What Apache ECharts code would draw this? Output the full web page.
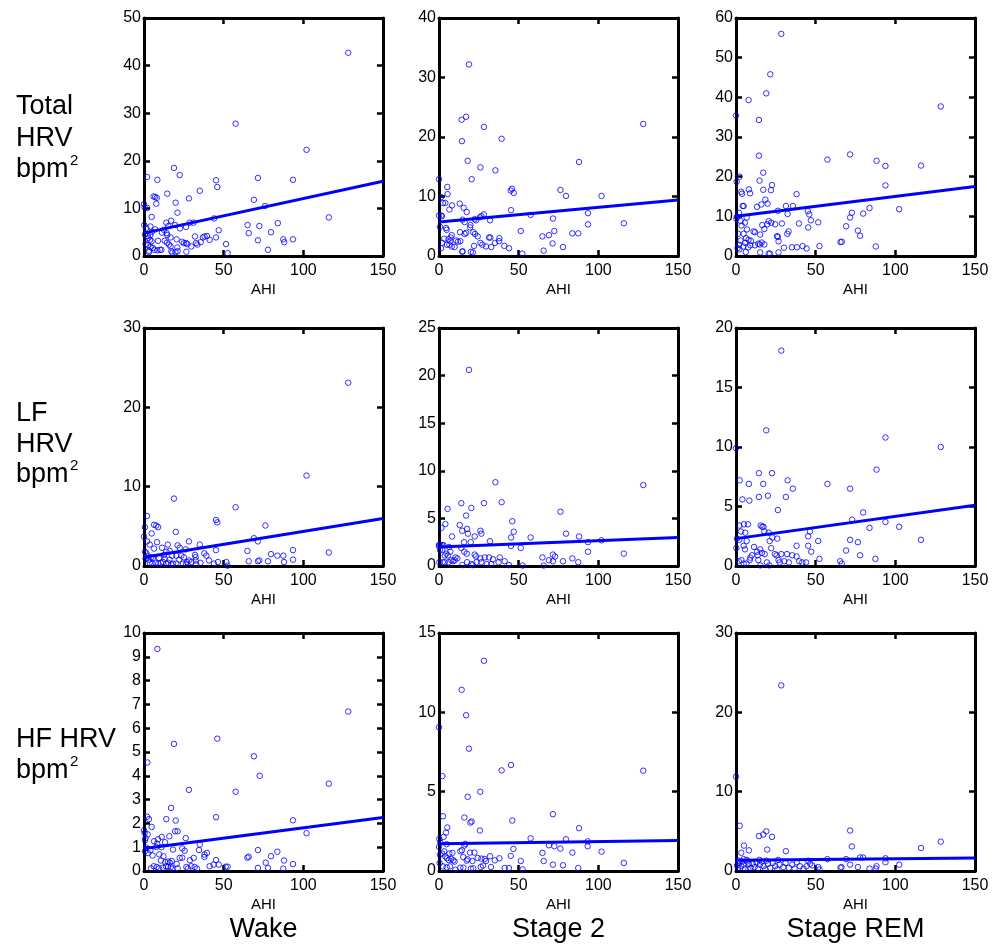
<!DOCTYPE html>
<html><head><meta charset="utf-8">
<script src="https://cdn.jsdelivr.net/npm/echarts@6/dist/echarts.min.js"></script>
<style>html,body{margin:0;padding:0;background:#fff}#c{width:1003px;height:946px}</style>
</head><body><div id="c"></div><script>
// ---------- DATA ----------
const columnNames = ['Wake', 'Stage 2', 'Stage REM'];
const rowNameLines = [['Total', 'HRV', 'bpm'], ['LF', 'HRV', 'bpm'], ['HF HRV', 'bpm']];
const xAxisName = 'AHI';
const xMin = 0, xMax = 150, xStep = 50;
const yMaxTotal = [50, 40, 60], yStepTotal = [10, 10, 10];
const yMaxLF = [30, 25, 20], yStepLF = [10, 5, 5];
const yMaxHF = [10, 15, 30], yStepHF = [1, 5, 10];

// regression fits: value at AHI = 0 and AHI = 150
const fitTotalWake = [4.8, 15.7], fitTotalStage2 = [5.7, 9.4], fitTotalREM = [10.0, 17.5];
const fitLFWake = [1.1, 6.0], fitLFStage2 = [2.0, 3.0], fitLFREM = [2.3, 5.1];
const fitHFWake = [0.95, 2.25], fitHFStage2 = [1.72, 1.92], fitHFREM = [1.35, 1.65];

const totalWake = [[128.2,42.7],[57.5,27.8],[102,22.3],[18.8,18.5],[1.9,16.6],[8.4,16.0],[22.4,17.0],[45.2,15.9],[71.5,16.4],[93.5,16.0],[46,14.5],[35,13.7],[14.6,13.1],[7,12.4],[8,12.2],[6,12.5],[28.2,12.1],[69,11.8],[19.9,11.2],[7.7,11.0],[76,10.5],[0,10.9],[0.4,10.2],[2,10.1],[21,9.1],[4.8,8.2],[116,8.1],[44,7.9],[17,7.4],[14,7.0],[28.7,7.0],[31,7.0],[19.5,6.5],[22.6,5.8],[26.4,6.1],[84,6.9],[65,6.5],[72.4,6.3],[0.2,6.5],[1.5,5.9],[4,6.2],[5,5.1],[7,5.6],[12.5,5.5],[15.3,6.3],[14.2,4.8],[11.3,4.9],[46.9,5.4],[65.7,4.8],[79.7,5.0],[0.6,4.5],[2.3,4.2],[4,4.4],[32,4.1],[38,4.1],[39.5,4.2],[37,3.9],[41.2,3.4],[45.2,3.9],[14.6,4.4],[16.7,3.9],[20.5,3.5],[71.5,3.3],[87.4,3.5],[88,2.9],[93.5,3.5],[2.7,3.8],[3.8,3.4],[4.8,3.1],[8.8,3.2],[13,3.2],[14.4,2.8],[24,3.0],[25,2.7],[26.4,2.7],[27.2,2.5],[32.6,2.7],[33.5,2.4],[35.6,2.9],[51.5,2.5],[1,2.5],[2.5,2.3],[4.2,1.9],[5.6,1.7],[6.5,1.3],[3.1,1.1],[3.1,0.8],[8.4,1.2],[10,1.3],[10.9,1.3],[17.2,1.0],[17.8,0.7],[19.7,0.8],[21.1,1.0],[26.6,0.9],[16.7,2.0],[15.7,2.4],[20.9,1.8],[29.7,2.0],[52.5,0.6],[77.8,1.3]];
const totalStage2 = [[18.8,32.2],[17,23.4],[14.2,22.9],[128.2,22.2],[28.2,21.7],[39.3,19.7],[14.4,19.3],[87.9,15.8],[18,16.0],[26,14.9],[35.4,14.4],[0,12.9],[20.5,12.9],[5.2,11.6],[45.8,11.3],[45,11.0],[46.9,10.6],[76.2,11.1],[79.7,10.1],[102,10.1],[5.4,10.4],[1.3,9.9],[2.5,8.9],[4,8.9],[13,8.8],[8.2,8.5],[15.5,8.1],[6.5,7.8],[17.4,7.4],[45.2,7.7],[28.2,7.0],[26.6,6.7],[25.7,6.5],[0,6.8],[1.3,6.8],[1.9,6.7],[57.5,6.9],[93.5,7.2],[71.5,6.3],[14.8,6.1],[16.1,5.7],[22.4,6.2],[23.2,6.0],[32,6.0],[0.6,4.9],[19.7,5.2],[19.5,4.8],[116,5.5],[93.5,5.3],[4.4,4.7],[4.8,4.4],[51.3,4.2],[72.4,4.2],[13.2,4.0],[17,3.9],[16.1,3.7],[21.5,4.0],[22.6,3.7],[83.7,3.8],[87.4,3.8],[69,3.5],[64.9,3.3],[24.3,3.3],[31.4,3.1],[32.2,3.1],[8,3.5],[7.3,3.1],[37.9,3.0],[37.7,2.5],[3.3,2.9],[2,2.2],[5.9,2.8],[7.1,2.5],[6.5,1.9],[10.7,2.6],[11.9,2.4],[13.4,2.5],[26,2.2],[27.2,1.9],[29.5,1.6],[32.8,1.5],[35.1,2.2],[41,1.7],[44,1.3],[71.3,2.1],[77.8,1.5],[22,1.7],[8,1.6],[9.8,1.5],[5,1.9],[1.3,1.3],[14.8,0.8],[14.6,0.7],[20,0.7],[21.3,0.6],[65.7,0.9],[52.3,0.4]];
const totalREM = [[28.4,56.0],[21.5,45.8],[19,41.0],[7.9,39.3],[0,35.4],[128.5,37.7],[14.4,34.3],[14.4,25.3],[71.6,25.6],[57.4,24.3],[88.2,24.0],[93.8,22.7],[116.1,22.8],[17.1,21.0],[2.3,20.0],[0.4,18.7],[14.8,19.0],[22.6,17.9],[93.8,17.8],[8.1,16.8],[8.8,15.8],[17.1,16.7],[21.9,16.6],[3.3,16.2],[3.8,15.7],[38,15.6],[18.4,14.2],[19.8,13.2],[15.9,13.0],[4.2,12.6],[4.8,12.6],[13.2,12.4],[31.3,12.6],[35.7,12.6],[83.8,12.1],[102.4,11.8],[26.3,11.4],[32.4,10.6],[45.1,11.3],[46,10.5],[72.7,10.9],[71.6,9.7],[79.8,10.7],[1.9,10.9],[0.6,9.9],[0.2,9.4],[6.7,9.7],[2.9,8.8],[3.5,7.7],[5.6,8.4],[47,9.0],[20.5,8.8],[22.1,8.4],[24.6,8.0],[28.8,8.2],[39.5,8.2],[51.6,8.5],[16.5,7.8],[19.6,8.0],[17.8,6.8],[45.3,7.2],[69.1,7.5],[6.9,6.7],[11,6.2],[11.9,6.0],[33,6.2],[32.2,5.6],[76.5,6.4],[77.9,5.1],[1.3,5.6],[4.8,5.6],[15.2,5.4],[25.7,5.0],[26.3,4.8],[65.6,3.5],[66.4,3.6],[6.3,4.5],[7.9,4.1],[9.4,3.8],[5.6,3.3],[2.9,3.9],[1.9,2.8],[1,2.0],[2.1,1.7],[11.9,2.7],[14,3.1],[15,2.9],[16.1,3.4],[17.8,2.9],[26.7,3.7],[4.6,2.4],[7.7,2.2],[9,2.7],[30.1,2.1],[35.1,2.2],[38.2,2.2],[41.8,2.5],[44.3,1.9],[52.4,2.5],[87.7,2.4],[15.2,0.9],[20.5,0.6],[21.3,0.6],[26.7,0.9],[6.1,1.0]];
const lfWake = [[128.2,23.1],[102,11.4],[18.8,8.5],[57.5,7.4],[1.9,6.3],[45.2,5.8],[46,5.5],[6.3,5.2],[7.7,5.1],[8.8,4.9],[76.2,5.1],[0.6,4.9],[4.8,4.1],[19.9,4.3],[0,3.7],[69,3.5],[71.5,3.1],[8.2,3.0],[28.2,3.1],[1.9,3.1],[3.6,2.7],[35,2.7],[14.9,2.7],[21.1,2.6],[22.4,2.3],[6.3,2.2],[64.9,1.9],[93.5,2.0],[45.2,2.0],[116,1.7],[0.6,1.8],[1.5,1.6],[11.3,2.3],[26.2,2.1],[79.7,1.5],[83.7,1.3],[87.4,1.3],[37.9,1.6],[39.1,1.3],[32,1.4],[32.4,1.1],[14,1.8],[16.1,1.9],[12.6,1.4],[17.6,1.3],[20.3,1.3],[23.4,1.3],[5.6,1.0],[3.1,0.8],[1,0.9],[93.5,0.8],[65.7,0.6],[71.5,0.6],[72.4,0.7],[77.8,0.6],[87.9,0.5],[40.8,0.7],[43.9,0.3],[46.4,0.5],[51.7,0.5],[52.5,0.05],[28.2,0.7],[29.7,0.5],[32.4,0.7],[35.4,0.4],[10.5,0.4],[11.9,0.5],[14,0.3],[15.3,0.4],[17.2,0.2],[18.2,0.3],[20.3,0.3],[24.5,0.3],[26.4,0.3],[27,0.5],[3.6,0.4],[5.2,0.3],[7.3,0.4],[9,0.3],[32.8,0.2],[2.5,1.2],[4.5,1.1],[9.5,1.0],[13,0.9],[16,0.8],[22,0.8],[25,1.1]];
const lfStage2 = [[18.8,20.6],[35.4,8.8],[128.2,8.5],[39.3,6.7],[28.2,6.6],[14,6.6],[20.3,6.1],[5.4,6.0],[76.2,5.7],[17,5.3],[46,4.7],[13,4.3],[4,4.4],[1.5,4.0],[17.6,3.9],[18.2,3.4],[14.6,3.7],[26,3.7],[26.6,3.4],[46.9,3.6],[79.7,3.4],[8.2,3.1],[22.4,3.1],[45.2,3.0],[57.5,3.0],[87.9,3.1],[102,2.7],[32,2.6],[15.7,2.5],[19.9,2.5],[93.5,2.5],[0,2.2],[0,2.1],[0.8,2.2],[1.9,2.2],[2.7,2.2],[0.6,1.7],[2.1,1.7],[45.2,2.1],[51.3,1.9],[6.3,2.0],[7.1,1.5],[93.5,1.5],[116,1.3],[14,1.9],[15.9,1.5],[17.4,1.3],[22.4,1.2],[23.2,1.0],[71.5,1.2],[72.8,1.0],[64.9,0.9],[83.7,0.8],[69,0.6],[71.5,0.5],[77.8,0.5],[87.4,0.4],[3.6,1.1],[4.6,1.3],[5.6,1.1],[10.3,0.9],[11.5,0.8],[26,0.8],[28.7,0.9],[31.4,0.9],[33.9,0.7],[38.1,0.9],[41.2,0.5],[43.9,0.1],[52.5,0.05],[65.7,0.05],[0.2,0.4],[2.3,0.4],[3.6,0.4],[6.1,0.4],[7.7,0.6],[8.8,0.5],[9.8,0.6],[14.6,0.1],[17.6,0.4],[20.3,0.2],[21.1,0.1],[23.6,0.4],[26.6,0.4],[30,0.2],[32.8,0.2],[37.4,0.4]];
const lfREM = [[28.4,18.1],[19,11.4],[93.8,10.8],[128.5,10.0],[0,9.9],[88.2,8.1],[14.4,7.8],[22.6,7.8],[32.4,7.2],[2.3,7.2],[8.1,6.9],[17.1,6.9],[57.4,6.9],[35.7,6.5],[71.6,6.5],[14.4,5.8],[20,5.9],[31.3,5.8],[4,5.6],[8.4,5.5],[26.3,4.7],[79.8,4.5],[72.9,3.9],[93.8,3.7],[83.8,3.2],[102.4,3.3],[2.1,3.4],[5,3.5],[7.5,3.5],[15.5,3.4],[16.5,3.3],[17.3,3.3],[3.1,2.9],[5.8,2.8],[17.8,2.9],[20.5,2.8],[46.4,2.9],[0.6,2.3],[2.1,2.2],[6.7,2.1],[25.9,2.3],[21.1,2.1],[22.8,2.4],[45.3,2.5],[71.6,2.2],[76.5,2.0],[116.1,2.2],[51.6,2.1],[38,1.7],[45.3,1.7],[0.2,1.5],[4.8,1.7],[5.6,1.4],[47.2,1.2],[69.1,1.3],[11.3,1.6],[13.2,1.2],[15.2,1.4],[16.3,1.1],[18,1.0],[22.1,1.5],[24.4,1.0],[25.5,0.9],[28.4,1.0],[32,1.0],[35.3,0.9],[38,0.8],[77.9,0.9],[87.5,0.6],[52.4,0.6],[3.4,0.5],[1.7,0.4],[4.8,0.2],[6.5,0.2],[9,0.7],[8.6,0.5],[10,0.9],[13.6,0.9],[14,0.5],[15.2,0.05],[20.9,0.05],[19.4,0.3],[26.7,0.5],[27.4,0.3],[30.3,0.4],[33.2,0.3],[39.7,0.4],[41.6,0.3],[44,0.3],[65.4,0.4],[66.4,0.2]];
const hfWake = [[8.4,9.33],[128.2,6.7],[46,5.56],[18.8,5.34],[69,4.82],[2.1,4.56],[72.6,4.0],[116,3.67],[28.2,3.41],[57.5,3.33],[17,2.65],[45.2,2.26],[1.9,2.28],[3.1,2.18],[14,2.18],[19.9,2.12],[93.5,2.13],[4.8,1.85],[19.5,1.67],[21.1,1.67],[0,1.71],[0.4,1.6],[102,1.59],[2.3,1.54],[1,1.38],[0.6,1.29],[11.1,1.43],[15.9,1.46],[26.2,1.38],[8.8,1.33],[6.3,1.25],[13.2,1.21],[1.5,0.98],[4,0.87],[0.6,0.83],[8.2,1.15],[7.7,1.01],[11,1.0],[35,1.11],[24,0.95],[25.5,0.85],[71.5,0.88],[83.7,0.81],[34.5,0.88],[39.5,0.76],[38,0.69],[37.9,0.59],[79.7,0.62],[64.9,0.56],[65.7,0.6],[22.4,0.55],[24,0.56],[31.2,0.55],[45.2,0.46],[87.9,0.44],[10.6,0.44],[13.4,0.37],[15.1,0.4],[16.2,0.35],[17.4,0.42],[76.4,0.35],[93.5,0.29],[41.2,0.2],[43.7,0.27],[46.9,0.27],[51.3,0.18],[52.5,0.18],[71.5,0.13],[77.8,0.13],[87.4,0.1],[4.4,0.11],[6.1,0.2],[8,0.17],[9.4,0.11],[11.9,0.14],[13.8,0.2],[15.1,0.17],[16.8,0.17],[17.8,0.1],[21.1,0.11],[26.6,0.17],[27.6,0.11],[29.7,0.2],[31.8,0.17],[33.3,0.1],[2.5,0.75],[5.4,0.65],[9.6,0.7],[12.2,0.62],[18.2,0.9],[20.5,0.3],[28.8,0.45]];
const hfStage2 = [[28.2,13.25],[14.2,11.42],[17,9.82],[0,9.06],[18.8,7.71],[45.2,6.68],[39.3,6.34],[128.2,6.32],[2.1,5.98],[25.9,4.99],[18,4.68],[71.5,3.58],[2.5,3.45],[15.9,3.37],[46,3.18],[19.7,3.05],[20.5,3.12],[5.2,2.74],[87.9,2.7],[25.7,2.55],[4.4,2.42],[2.9,2.15],[57.5,2.06],[79.7,2.0],[93.3,1.87],[93.3,1.56],[0.2,2.02],[0.8,1.81],[0,1.52],[4.8,1.69],[16.5,1.71],[15.9,1.6],[69,1.62],[72.4,1.56],[76.2,1.41],[46.7,1.39],[102,1.22],[83.7,1.16],[64.9,1.14],[3.3,1.24],[2.1,1.1],[0.6,1.03],[13.4,1.24],[14.4,1.31],[19.5,1.16],[22.2,1.16],[8.4,1.14],[6.5,1.1],[45,0.95],[32,0.93],[37.9,0.8],[15.2,0.88],[18,0.74],[17.4,0.65],[24.3,0.82],[51.3,0.63],[65.7,0.63],[35,0.67],[116,0.51],[4,0.92],[5,0.8],[6,0.69],[7.7,0.76],[9,0.67],[9.8,0.59],[21,0.63],[26.6,0.78],[28.7,0.76],[29.5,0.63],[71.5,0.4],[77.8,0.36],[87.4,0.19],[41.2,0.19],[43.9,0.19],[52.5,0.1],[20,0.15],[21.5,0.17],[26.2,0.25],[32.6,0.25],[27.6,0.34],[0.4,0.5],[2.5,0.29],[4.8,0.23],[6.9,0.29],[10.3,0.08],[13.4,0.21],[15.3,0.21]];
const hfREM = [[28.4,23.4],[0,11.9],[2.3,5.7],[71.6,5.1],[19,5.0],[17.1,4.6],[14.4,4.4],[22.6,4.3],[128.5,3.7],[5,3.2],[72.7,3.1],[116.1,2.9],[19.6,2.7],[8.1,2.6],[31.3,2.5],[3.3,2.3],[57.4,1.5],[69.1,1.5],[77.9,1.7],[79.8,1.7],[93.8,1.6],[93.8,1.1],[45.3,1.3],[46.6,0.9],[47.8,0.7],[102.4,0.8],[71.6,0.8],[76.5,0.5],[88.2,0.6],[87.7,0.3],[83.8,0.3],[65.6,0.4],[66.2,0.5],[51.6,0.5],[52.4,0.2],[0.6,0.7],[1.3,0.4],[2.1,1.0],[3.3,0.6],[4.6,0.8],[5.6,0.3],[6.7,1.4],[8.1,0.9],[9.2,0.4],[4.8,1.5],[6.9,1.2],[10.5,0.9],[11.7,0.5],[12.9,1.1],[13.8,0.3],[15,0.8],[16.1,1.2],[17.3,0.6],[18.4,0.2],[20.1,0.9],[21.5,0.4],[23,1.0],[24.6,0.6],[25.9,0.2],[27.4,0.8],[29.7,0.5],[31.1,1.0],[33.2,0.4],[35.3,0.8],[36.8,0.3],[38.2,1.1],[40.1,0.6],[42.4,0.3],[44.3,0.6],[1.5,1.3],[3.9,1.2],[7.7,0.2],[14.6,1.4],[19,1.3],[26.5,1.4]];

// ---------- LAYOUT ----------
const FONT = '"Liberation Sans", Arial, Helvetica, sans-serif';
const gridLefts = [144, 439, 736];
const gridTops = [18, 328, 633];
const GW = 239, GH = 238;
const BLUE = '#0000ff';

const panels = [
  {pts: totalWake, fit: fitTotalWake, yMax: yMaxTotal[0], yStep: yStepTotal[0]},
  {pts: totalStage2, fit: fitTotalStage2, yMax: yMaxTotal[1], yStep: yStepTotal[1]},
  {pts: totalREM, fit: fitTotalREM, yMax: yMaxTotal[2], yStep: yStepTotal[2]},
  {pts: lfWake, fit: fitLFWake, yMax: yMaxLF[0], yStep: yStepLF[0]},
  {pts: lfStage2, fit: fitLFStage2, yMax: yMaxLF[1], yStep: yStepLF[1]},
  {pts: lfREM, fit: fitLFREM, yMax: yMaxLF[2], yStep: yStepLF[2]},
  {pts: hfWake, fit: fitHFWake, yMax: yMaxHF[0], yStep: yStepHF[0]},
  {pts: hfStage2, fit: fitHFStage2, yMax: yMaxHF[1], yStep: yStepHF[1]},
  {pts: hfREM, fit: fitHFREM, yMax: yMaxHF[2], yStep: yStepHF[2]}
];

const lineStyleAxis = {color: '#000', width: 3};
const tickStyle = {inside: true, length: 6, lineStyle: {color: '#000', width: 2.5}};
const grid = [], xAxis = [], yAxis = [], series = [];
panels.forEach((p, i) => {
  const r = Math.floor(i / 3), c = i % 3;
  grid.push({left: gridLefts[c], top: gridTops[r], width: GW, height: GH});
  const xBase = {gridIndex: i, type: 'value', min: xMin, max: xMax, interval: xStep,
    splitLine: {show: false}, axisTick: tickStyle,
    axisLine: {show: true, onZero: false, lineStyle: lineStyleAxis}};
  xAxis.push(Object.assign({}, xBase, {position: 'bottom',
    axisLabel: {margin: 7, fontSize: 16, color: '#000', fontFamily: FONT},
    name: xAxisName, nameLocation: 'middle', nameGap: 26,
    nameTextStyle: {fontSize: 15, color: '#000', fontFamily: FONT}}));
  xAxis.push(Object.assign({}, xBase, {position: 'top', axisLabel: {show: false}}));
  const yBase = {gridIndex: i, type: 'value', min: 0, max: p.yMax, interval: p.yStep,
    splitLine: {show: false}, axisTick: tickStyle,
    axisLine: {show: true, onZero: false, lineStyle: lineStyleAxis}};
  yAxis.push(Object.assign({}, yBase, {position: 'left',
    axisLabel: {margin: 3, fontSize: 16, color: '#000', fontFamily: FONT}}));
  yAxis.push(Object.assign({}, yBase, {position: 'right', axisLabel: {show: false}}));
  series.push({type: 'scatter', xAxisIndex: 2 * i, yAxisIndex: 2 * i, data: p.pts,
    symbol: 'circle', symbolSize: 5.5, clip: false,
    itemStyle: {color: 'rgba(255,255,255,0)', borderColor: BLUE, borderWidth: 1},
    emphasis: {disabled: true}, z: 2});
  series.push({type: 'line', xAxisIndex: 2 * i, yAxisIndex: 2 * i,
    data: [[xMin, p.fit[0]], [xMax, p.fit[1]]], symbol: 'none',
    lineStyle: {color: BLUE, width: 3}, emphasis: {disabled: true}, z: 3});
});

// row / column labels
const graphic = [];
const BIG = '27px ' + FONT, SUP = '15px ' + FONT;
const rowLineY = [[107, 139, 170], [414, 445, 475], [740, 771]];
rowNameLines.forEach((lines, r) => {
  lines.forEach((t, k) => {
    graphic.push({type: 'text', x: 16, y: rowLineY[r][k],
      style: {text: t, font: BIG, fill: '#000', verticalAlign: 'middle', align: 'left'}});
    if (t === 'bpm') {
      graphic.push({type: 'text', x: 70, y: rowLineY[r][k] - 9,
        style: {text: '2', font: SUP, fill: '#000', verticalAlign: 'middle', align: 'left'}});
    }
  });
});
columnNames.forEach((t, c) => {
  graphic.push({type: 'text', x: gridLefts[c] + GW / 2, y: 930,
    style: {text: t, font: BIG, fill: '#000', verticalAlign: 'middle', align: 'center'}});
});

const chart = echarts.init(document.getElementById('c'), null, {renderer: 'canvas'});
chart.setOption({animation: false, backgroundColor: '#fff', grid, xAxis, yAxis, series, graphic});
</script></body></html>
